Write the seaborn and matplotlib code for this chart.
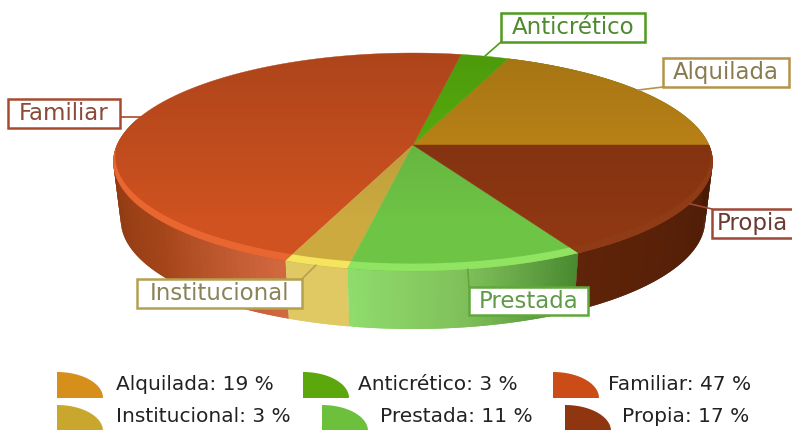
import numpy as np
import matplotlib
matplotlib.use("Agg")
import matplotlib.pyplot as plt
from matplotlib.patches import Rectangle
import seaborn as sns

categories = ["Alquilada", "Anticrético", "Familiar", "Institucional", "Prestada", "Propia"]
values = [19, 3, 47, 3, 11, 17]

face_colors = ["#c68b18", "#5cb80e", "#cf5220", "#cdaa40", "#6ec445", "#8e3712"]
icon_colors = ["#d68f1a", "#5ca80c", "#cc4c18", "#c9a72e", "#6cc03c", "#8f3510"]
rim_colors = ["#c08a20", "#5ab010", "#ea6630", "#f4e45e", "#90e462", "#8f3c16"]
wall_colors = [["#6b4a10", "#4a300a"], ["#3c7a08", "#3c7a08"], ["#7c2f0d", "#8f3a12", "#a5451a", "#d2683f"],
               ["#e0c862", "#e0c862"], ["#8fdc6c", "#7fbf5a", "#4a8a30"], ["#5f2409", "#4a1a06"]]
line_colors = ["#b5934a", "#4f9a1f", "#a84a30", "#b5a050", "#5fa83a", "#a04838"]
text_colors = ["#8a7a50", "#4f8a30", "#8a4a38", "#8a8258", "#5f9a48", "#6a3a30"]
label_boxes = [(663, 58, 126, 29), (501, 13, 144, 29), (8, 99, 112, 29),
               (137, 279, 165, 29), (469, 287, 119, 28), (712, 209, 90, 29)]
legend_slots = [(57, 372, 116), (303, 372, 358), (553, 372, 608),
                (57, 405, 116), (322, 405, 380), (565, 405, 622)]

CX, CY = 413, 162
RX, RY = 296, 109
TILT = 17 / 109
DEPTH = 58


def project(t, r=1.0, drop=0.0, shrink=1.0):
    # unit circle to picture coords, perspective keeps the apex above the ellipse centre
    x = r * np.cos(t)
    y = r * np.sin(t)
    den = 1 + TILT * y
    px = CX + shrink * RX * x / den
    py = CY - (RY * y + TILT * RY) / den + drop
    return px, py


sns.set_theme(style="white")
plt.rcParams["font.family"] = ["DejaVu Sans"]

fig = plt.figure(figsize=(7.92, 4.30), dpi=100)
ax = fig.add_axes([0, 0, 1, 1])
ax.set_xlim(0, 792)
ax.set_ylim(430, 0)
ax.axis("off")

edges = np.cumsum([0] + values) / sum(values) * 2 * np.pi

# side wall, strip by strip, each strip runs under the next one to hide seams
for i in range(len(values)):
    a0, a1 = edges[i], edges[i + 1]
    lo = max(a0, np.radians(165))
    if a1 <= np.radians(90):
        lo, a1 = a0, np.radians(10)
    elif a1 <= lo:
        continue
    n = 70
    ts = np.linspace(lo, a1, n + 1)
    pal = sns.blend_palette(wall_colors[i], n)
    for k in range(n):
        tt = np.linspace(ts[k], ts[min(k + 2, n)], 4)
        x1, y1 = project(tt)
        x2, y2 = project(tt[::-1], drop=DEPTH, shrink=0.975)
        ax.fill(np.r_[x1, x2], np.r_[y1, y2], color=pal[k], lw=0, zorder=1)

# top face
for i in range(len(values)):
    tt = np.linspace(edges[i], edges[i + 1], 80)
    x, y = project(tt)
    ax.fill(np.r_[project(0, 0)[0], x], np.r_[project(0, 0)[1], y], color=face_colors[i], lw=0.3, zorder=2)

# top of the pie gets darker to the back
tt = np.linspace(0, 2 * np.pi, 300)
ex, ey = project(tt)
clip = ax.fill(ex, ey, color="none", lw=0, zorder=3)[0]
shade = np.zeros((100, 2, 4))
shade[..., 3] = np.linspace(0.17, 0.0, 100)[:, None]
im = ax.imshow(shade, extent=(CX - 310, CX + 310, CY + 60, CY - 115), aspect="auto", zorder=3)
im.set_clip_path(clip)
ax.set_xlim(0, 792)
ax.set_ylim(430, 0)

# lighter rim along the front, thin at the sides and wide at the front
for i in range(len(values)):
    lo = max(edges[i], np.radians(180))
    hi = edges[i + 1]
    if hi <= lo:
        continue
    tt = np.linspace(lo, hi, 60)
    x1, y1 = project(tt)
    x2, y2 = project(tt[::-1], r=1 + 0.05 * np.sin(tt[::-1]))
    ax.fill(np.r_[x1, x2], np.r_[y1, y2], color=rim_colors[i], lw=0, zorder=4)

# callouts
for i, name in enumerate(categories):
    bx, by, bw, bh = label_boxes[i]
    mid = (edges[i] + edges[i + 1]) / 2
    mx, my = project(mid)
    ex2 = min(max(mx, bx), bx + bw)
    ey2 = min(max(my, by), by + bh)
    ax.plot([mx, ex2], [my, ey2], color=line_colors[i], lw=1.2, zorder=5)
    ax.add_patch(Rectangle((bx, by), bw, bh, fc="white", ec=line_colors[i], lw=1.8, zorder=6))
    ax.text(bx + bw / 2 if name != "Propia" else bx + 5, by + bh / 2, name, color=text_colors[i],
            fontsize=16.5, ha="center" if name != "Propia" else "left", va="center", zorder=7)

# legend
for i, name in enumerate(categories):
    lx, ly, tx = legend_slots[i]
    tt = np.linspace(0, np.pi / 2, 30)
    qx = lx + 46 * np.cos(tt)
    qy = ly + 26 - 26 * np.sin(tt)
    ax.fill(np.r_[lx, qx], np.r_[ly + 26, qy], color=icon_colors[i], lw=0, zorder=5)
    ax.text(tx, ly + 12, f"{name}: {values[i]} %", color="#222222", fontsize=14.5,
            ha="left", va="center")

fig.savefig("out.png", dpi=100)
